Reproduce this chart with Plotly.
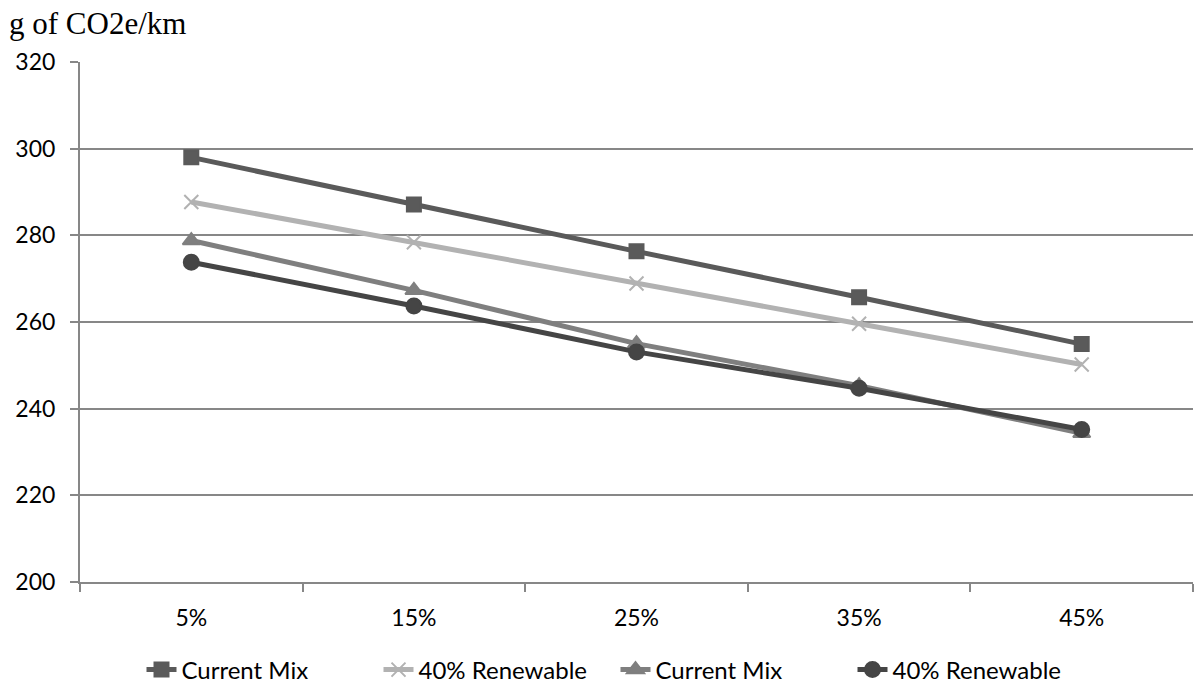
import plotly.graph_objects as go

categories = ["5%", "15%", "25%", "35%", "45%"]
current_mix_a = [298.0, 287.1, 276.3, 265.7, 254.9]
renewable_a = [287.7, 278.4, 268.9, 259.6, 250.2]
current_mix_b = [278.8, 267.3, 255.0, 245.3, 234.3]
renewable_b = [273.8, 263.7, 253.1, 244.7, 235.2]

series = [
    ("Current Mix", current_mix_a, "#5a5a5a", "square", 14),
    ("40% Renewable", renewable_a, "#b2b2b2", "x-thin-open", 14),
    ("Current Mix", current_mix_b, "#7f7f7f", "triangle-up", 15),
    ("40% Renewable", renewable_b, "#454545", "circle", 15),
]

fig = go.Figure()
for name, vals, color, sym, size in series:
    fig.add_trace(go.Scatter(
        x=categories, y=vals, name=name, mode="lines+markers",
        line=dict(color=color, width=5),
        marker=dict(symbol=sym, size=size, color=color,
                    line=dict(color=color, width=2)),
    ))

fig.update_layout(
    width=1199, height=685,
    margin=dict(l=80, r=6, t=62, b=103),
    paper_bgcolor="white", plot_bgcolor="white",
    font=dict(family="Lato, Open Sans, sans-serif", size=23, color="black"),
    title=dict(text="g of CO2e/km", x=9/1199, xanchor="left", xref="container",
               y=1 - 23/685, yanchor="middle", yref="container",
               font=dict(family="Liberation Serif", size=31, color="black")),
    showlegend=True,
    legend=dict(orientation="h", x=0.5 + 16/1199, xanchor="center", xref="container",
                y=1 - 670/685, yanchor="middle", yref="container",
                entrywidth=192, entrywidthmode="pixels",
                font=dict(family="Lato, Open Sans, sans-serif", size=24)),
    xaxis=dict(type="category", range=[-0.5, 4.5], showgrid=False,
               showline=True, linecolor="#878787", linewidth=2,
               ticks="outside", tickson="boundaries", ticklen=8,
               tickcolor="#878787", tickwidth=2, ticklabelstandoff=14),
    yaxis=dict(range=[200, 320], dtick=20, showgrid=True, gridcolor="#878787",
               gridwidth=2, showline=True, linecolor="#878787", linewidth=2,
               ticks="outside", ticklen=8, tickcolor="#878787", tickwidth=2,
               zeroline=False, ticklabelstandoff=10),
)

fig.write_html("out.html")
